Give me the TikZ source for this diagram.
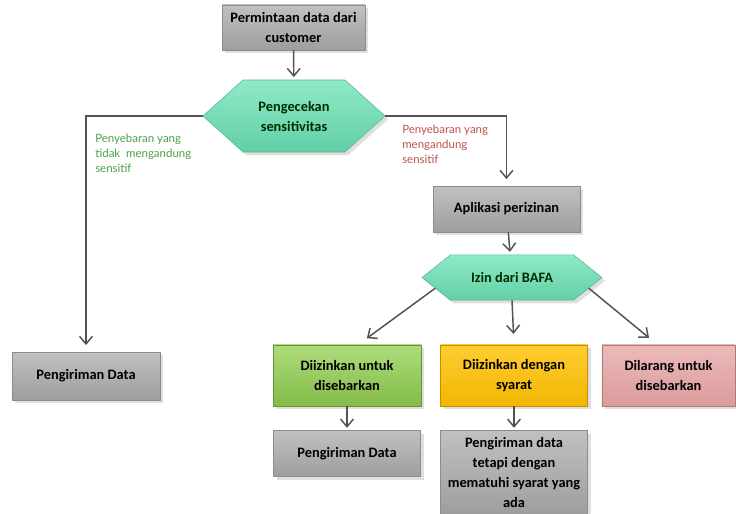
\documentclass[tikz,border=0pt]{standalone}
\usepackage{fontspec}
\setmainfont{Carlito}
\newfontfamily\notefont{Lato}
\usetikzlibrary{arrows.meta, positioning, shapes.symbols, shadows}

\definecolor{boxgray}{HTML}{A6A6A6}
\definecolor{hexgreen}{HTML}{6AE2B4}
\definecolor{okgreen}{HTML}{92D050}
\definecolor{condyellow}{HTML}{FFC000}
\definecolor{nopink}{HTML}{E6A3A3}
\definecolor{notegreen}{HTML}{4A9E4A}
\definecolor{notered}{HTML}{C0504D}

\begin{document}
\begin{tikzpicture}[
  x=0.75pt, y=-0.75pt,
  node distance=18pt and 0pt,
  box/.style={rectangle, draw=black!45, top color=boxgray!70, bottom color=boxgray!95!black,
    minimum width=110pt, minimum height=34.5pt, align=center, inner sep=2pt,
    font=\bfseries\fontsize{10.8}{15}\selectfont, drop shadow={opacity=0.25}},
  hexa/.style={signal, signal to=east and west, draw=hexgreen!80!black,
    top color=hexgreen!75, bottom color=hexgreen!92!black, align=center,
    text=black!70!green!60!black,
    font=\bfseries\fontsize{10.8}{15}\selectfont, drop shadow={opacity=0.25}},
  note/.style={anchor=north west, align=left, inner sep=0pt,
    font=\notefont\fontsize{8.6}{11}\selectfont},
  arr/.style={-{Straight Barb[length=2mm, width=3.4mm]}, draw=black!68, line width=1.1pt}
]
\useasboundingbox (0,0) rectangle (736,514);

% top part
\node[box, minimum width=107pt, minimum height=34pt] (req) at (293.5,27.5) {Permintaan data dari\\ customer};
\node[hexa, minimum width=136.5pt, minimum height=54pt, signal pointer angle=84] (cek) at (294,116) {Pengecekan\\ sensitivitas};
\node[box, minimum width=111pt, minimum height=36pt] (kirim1) at (86,376) {Pengiriman Data};
\node[box] (izin) at (506.5,209) {Aplikasi perizinan};
\node[hexa, minimum width=135pt, minimum height=34pt, signal pointer angle=77] (bafa) at (512,277.5) {Izin dari BAFA};

% outcomes
\node[box, minimum width=111pt, minimum height=46pt, top color=okgreen!75, bottom color=okgreen!90!black,
  draw=okgreen!70!black] (ok) at (347,375.5) {Diizinkan untuk\\ disebarkan};
\node[box, minimum width=110pt, minimum height=46pt, top color=condyellow!80, bottom color=condyellow!95!black,
  draw=condyellow!75!black] (cond) at (514,375.5) {Diizinkan dengan\\ syarat};
\node[box, minimum width=100pt, minimum height=46pt, top color=nopink!75, bottom color=nopink!95!black,
  draw=nopink!75!black] (nope) at (668.5,375.5) {Dilarang untuk\\ disebarkan};
\node[box, below=of ok] (kirim2) {Pengiriman Data};
\node[box, below=of cond, minimum height=63pt] (kirim3) {Pengiriman data\\ tetapi dengan\\ mematuhi syarat yang\\ ada};

% notes
\node[note, text=notegreen] (tidak) at (95,134) {Penyebaran yang\\ tidak~~mengandung\\ sensitif};
\node[note, text=notered] (ya) at (402,125) {Penyebaran yang\\ mengandung\\ sensitif};

\draw[arr, shorten >=2pt] (req) -- (cek);
\draw[arr, shorten >=5pt] (cek.west) -| (kirim1.north);
\draw[arr, shorten >=5pt] (cek.east) -| (izin.north);
\draw[arr, shorten >=2pt] (izin) -- (bafa);
\draw[arr, shorten >=8pt] (bafa.188) -- (ok.70);
\draw[arr, shorten >=8pt] (bafa.south) -- (cond.north);
\draw[arr, shorten >=8pt] (bafa.352) -- (nope.110);
\draw[arr, shorten >=2pt] (ok) -- (kirim2);
\draw[arr, shorten >=2pt] (cond) -- (kirim3);
\end{tikzpicture}
\end{document}
